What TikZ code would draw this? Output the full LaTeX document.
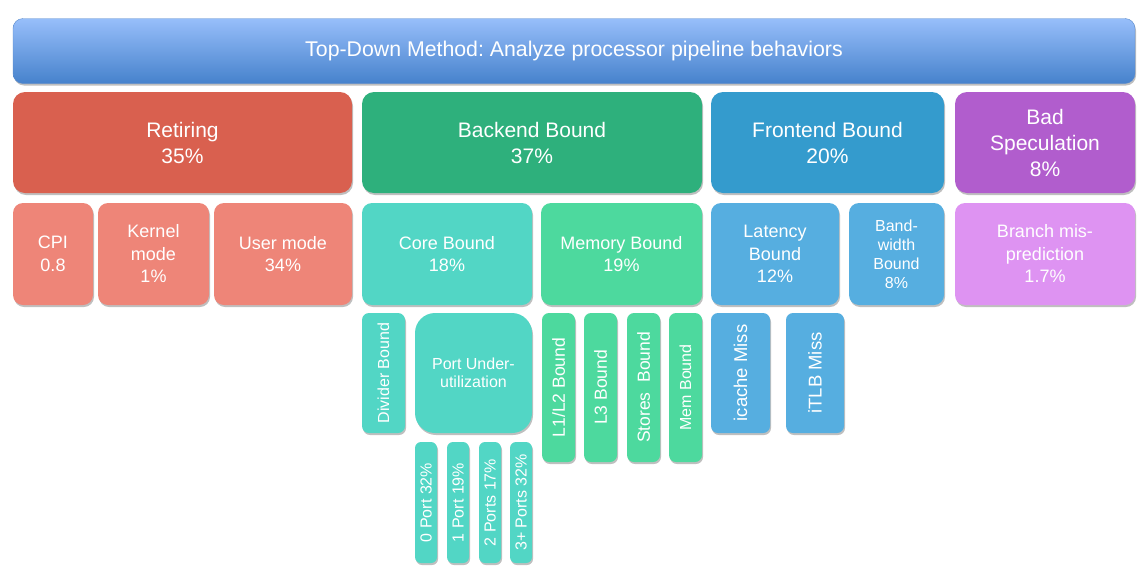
\documentclass[tikz,border=0pt]{standalone}
\usepackage{fontspec}
\setmainfont{Liberation Sans}
\usepackage{tikz}
\usetikzlibrary{shadows}
\frenchspacing
\definecolor{topA}{HTML}{97BEFA}
\definecolor{topB}{HTML}{4682CC}
\definecolor{topline}{HTML}{5B8BCB}
\definecolor{retire}{HTML}{D9604F}
\definecolor{retsub}{HTML}{EE8578}
\definecolor{backend}{HTML}{2EB07C}
\definecolor{coresub}{HTML}{52D6C5}
\definecolor{memsub}{HTML}{4DD99E}
\definecolor{frontend}{HTML}{349BCD}
\definecolor{frontsub}{HTML}{56AEE0}
\definecolor{badspec}{HTML}{B15DCD}
\definecolor{badsub}{HTML}{DE93F2}
\tikzset{
    Box/.style = {rectangle, rounded corners=12pt, inner sep=0pt, align=center, text=white,
        drop shadow={shadow xshift=1pt, shadow yshift=-2pt, opacity=0.25, fill=black}},
    topbox/.style = {Box, rounded corners=10pt, draw=topline, top color=topA, bottom color=topB,
        minimum width=1122pt, minimum height=65pt, font=\fontsize{21.3}{25}\selectfont},
    bigbox/.style = {Box, minimum height=101pt, font=\fontsize{21}{26}\selectfont},
    midbox/.style = {Box, rounded corners=10pt, minimum height=102pt, font=\fontsize{18}{22.5}\selectfont},
}

\begin{document}
\begin{tikzpicture}[x=1pt, y=-1pt]
\tikzset{
    lowbox/.style = {Box, rounded corners=7pt, font=\fontsize{17.5}{20}\selectfont},
    portbox/.style = {Box, rounded corners=6pt, minimum width=22pt, minimum height=121pt,
        fill=coresub, font=\fontsize{16}{19}\selectfont},
    membox/.style = {lowbox, minimum width=33pt, minimum height=149pt, fill=memsub},
}
\useasboundingbox (0,0) rectangle (1144,571);
\node[topbox] at (574,51) (top) {Top-Down Method: Analyze processor pipeline behaviors};
%
\node[bigbox, fill=retire, minimum width=339pt] at (182.5,142.5) (ret) {Retiring\\35\%};
\node[bigbox, fill=backend, minimum width=340pt] at (532,142.5) (back) {Backend Bound\\37\%};
\node[bigbox, fill=frontend, minimum width=233pt] at (827.5,142.5) (front) {Frontend Bound\\20\%};
\node[bigbox, fill=badspec, minimum width=180pt] at (1045,142.5) (bad) {Bad\\Speculation\\8\%};
%
\node[midbox, fill=retsub, minimum width=80pt] at (53,254) (cpi) {CPI\\0.8};
\node[midbox, fill=retsub, minimum width=111pt] at (153.5,254) (kernel) {Kernel\\mode\\1\%};
\node[midbox, fill=retsub, minimum width=138pt] at (283,254) (user) {User mode\\34\%};
\node[midbox, fill=coresub, minimum width=170pt] at (447,254) (core) {Core Bound\\18\%};
\node[midbox, fill=memsub, minimum width=161pt] at (621.5,254) (mem) {Memory Bound\\19\%};
\node[midbox, fill=frontsub, minimum width=128pt] at (775,254) (lat) {Latency\\Bound\\12\%};
\node[midbox, fill=frontsub, minimum width=95pt, font=\fontsize{16}{19}\selectfont]
    at (896.5,254) (bw) {Band-\\width\\Bound\\8\%};
\node[midbox, fill=badsub, minimum width=180pt] at (1045,254) (branch) {Branch mis-\\prediction\\1.7\%};
%
\node[lowbox, fill=coresub, minimum width=43pt, minimum height=120pt, font=\fontsize{16}{19}\selectfont]
    at (383.5,373) (div) {\rotatebox{90}{Divider Bound}};
\node[lowbox, fill=coresub, rounded corners=20pt, minimum width=117pt, minimum height=120pt,
    font=\fontsize{16}{18.5}\selectfont] at (473.5,373) (port) {Port Under-\\utilization};
%
\node[membox] at (558.5,387.5) (l12) {\rotatebox{90}{L1/L2 Bound}};
\node[membox] at (600.5,387.5) (l3) {\rotatebox{90}{L3 Bound}};
\node[membox] at (643.5,387.5) (stores) {\rotatebox{90}{Stores~~Bound}};
\node[membox, font=\fontsize{16}{19}\selectfont] at (685.5,387.5) (dram) {\rotatebox{90}{Mem Bound}};
%
\node[lowbox, fill=frontsub, minimum width=59pt, minimum height=120pt, font=\fontsize{18.5}{22}\selectfont]
    at (740.5,373) (icache) {\rotatebox{90}{icache Miss}};
\node[lowbox, fill=frontsub, minimum width=58pt, minimum height=120pt, font=\fontsize{18.5}{22}\selectfont]
    at (815,373) (itlb) {\rotatebox{90}{iTLB Miss}};
%
\node[portbox] at (426,502.5) (p0) {\rotatebox{90}{0 Port 32\%}};
\node[portbox] at (458,502.5) (p1) {\rotatebox{90}{1 Port 19\%}};
\node[portbox] at (490,502.5) (p2) {\rotatebox{90}{2 Ports 17\%}};
\node[portbox] at (521,502.5) (p3) {\rotatebox{90}{3+ Ports 32\%}};
\end{tikzpicture}
\end{document}
